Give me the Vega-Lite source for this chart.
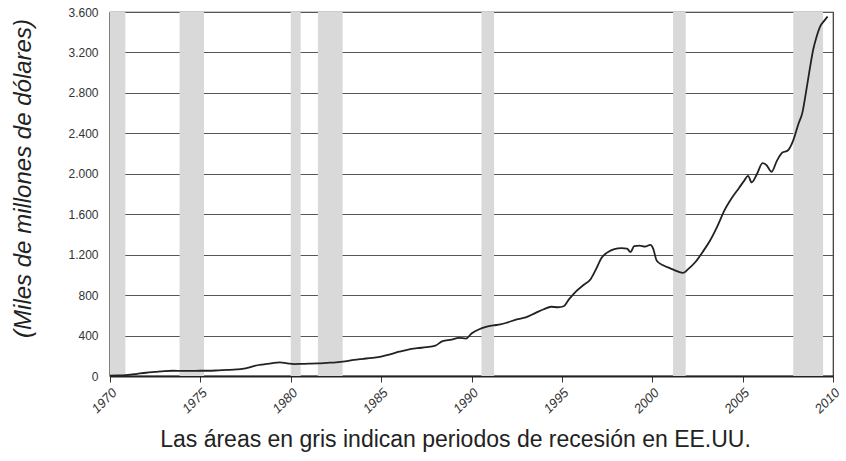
{
  "$schema": "https://vega.github.io/schema/vega-lite/v6.json",
  "width": 723,
  "height": 364,
  "autosize": "none",
  "padding": {"left": 110, "top": 12, "right": 13, "bottom": 85},
  "background": "white",
  "config": {
    "view": {"stroke": "#333333", "strokeWidth": 1.2},
    "font": "Liberation Sans"
  },
  "datasets": {
    "recessions": [
      {"start": 1970.0, "end": 1970.85},
      {"start": 1973.85, "end": 1975.2},
      {"start": 1980.0, "end": 1980.55},
      {"start": 1981.5, "end": 1982.87},
      {"start": 1990.55, "end": 1991.25},
      {"start": 2001.15, "end": 2001.85},
      {"start": 2007.8, "end": 2009.45}
    ],
    "series": [
      {"year": 1970.0, "value": 3},
      {"year": 1970.5, "value": 5},
      {"year": 1971.0, "value": 12},
      {"year": 1971.5, "value": 22},
      {"year": 1972.0, "value": 32},
      {"year": 1972.5, "value": 40},
      {"year": 1973.0, "value": 48},
      {"year": 1973.5, "value": 52},
      {"year": 1974.0, "value": 50},
      {"year": 1974.5, "value": 50},
      {"year": 1975.0, "value": 52},
      {"year": 1975.5, "value": 52},
      {"year": 1976.0, "value": 56},
      {"year": 1976.5, "value": 60},
      {"year": 1977.0, "value": 65},
      {"year": 1977.5, "value": 75},
      {"year": 1978.0, "value": 100},
      {"year": 1978.5, "value": 115},
      {"year": 1979.0, "value": 128},
      {"year": 1979.4, "value": 134},
      {"year": 1979.8, "value": 125},
      {"year": 1980.2, "value": 118},
      {"year": 1980.6, "value": 120},
      {"year": 1981.0, "value": 122},
      {"year": 1981.5, "value": 125},
      {"year": 1982.0, "value": 130},
      {"year": 1982.5, "value": 135},
      {"year": 1983.0, "value": 145},
      {"year": 1983.5, "value": 160},
      {"year": 1984.0, "value": 170},
      {"year": 1984.5, "value": 180},
      {"year": 1985.0, "value": 192},
      {"year": 1985.5, "value": 215},
      {"year": 1986.0, "value": 240},
      {"year": 1986.5, "value": 262},
      {"year": 1987.0, "value": 275},
      {"year": 1987.5, "value": 285},
      {"year": 1988.0, "value": 300},
      {"year": 1988.4, "value": 345},
      {"year": 1988.9, "value": 360},
      {"year": 1989.3, "value": 378},
      {"year": 1989.7, "value": 370},
      {"year": 1990.0, "value": 420},
      {"year": 1990.4, "value": 460},
      {"year": 1990.8, "value": 485},
      {"year": 1991.2, "value": 500},
      {"year": 1991.6, "value": 510},
      {"year": 1992.0, "value": 530},
      {"year": 1992.5, "value": 560},
      {"year": 1993.0, "value": 580},
      {"year": 1993.5, "value": 620},
      {"year": 1994.0, "value": 660},
      {"year": 1994.4, "value": 685},
      {"year": 1994.8, "value": 680},
      {"year": 1995.1, "value": 690},
      {"year": 1995.4, "value": 760},
      {"year": 1995.8, "value": 840},
      {"year": 1996.2, "value": 900},
      {"year": 1996.6, "value": 960},
      {"year": 1996.9, "value": 1060},
      {"year": 1997.2, "value": 1170},
      {"year": 1997.5, "value": 1220},
      {"year": 1997.9, "value": 1255},
      {"year": 1998.3, "value": 1265},
      {"year": 1998.6, "value": 1260},
      {"year": 1998.8, "value": 1225},
      {"year": 1999.0, "value": 1285},
      {"year": 1999.3, "value": 1290},
      {"year": 1999.6, "value": 1280},
      {"year": 1999.9, "value": 1296},
      {"year": 2000.05, "value": 1260},
      {"year": 2000.25, "value": 1140},
      {"year": 2000.6, "value": 1095},
      {"year": 2001.0, "value": 1065},
      {"year": 2001.4, "value": 1035},
      {"year": 2001.7, "value": 1020},
      {"year": 2002.0, "value": 1060},
      {"year": 2002.4, "value": 1130},
      {"year": 2002.8, "value": 1230},
      {"year": 2003.2, "value": 1340},
      {"year": 2003.6, "value": 1480},
      {"year": 2004.0, "value": 1640},
      {"year": 2004.4, "value": 1760},
      {"year": 2004.8, "value": 1860},
      {"year": 2005.1, "value": 1935},
      {"year": 2005.3, "value": 1980},
      {"year": 2005.5, "value": 1915},
      {"year": 2005.8, "value": 2000},
      {"year": 2006.1, "value": 2105},
      {"year": 2006.3, "value": 2090},
      {"year": 2006.6, "value": 2020},
      {"year": 2006.9, "value": 2130},
      {"year": 2007.2, "value": 2210},
      {"year": 2007.5, "value": 2230},
      {"year": 2007.8, "value": 2330},
      {"year": 2008.1, "value": 2500},
      {"year": 2008.3, "value": 2600},
      {"year": 2008.5, "value": 2800},
      {"year": 2008.7, "value": 3020},
      {"year": 2008.9, "value": 3224},
      {"year": 2009.1, "value": 3360},
      {"year": 2009.3, "value": 3460},
      {"year": 2009.5, "value": 3510},
      {"year": 2009.7, "value": 3555}
    ]
  },
  "layer": [
    {
      "data": {"name": "recessions"},
      "mark": {"type": "rect", "color": "#d9d9d9", "opacity": 1},
      "encoding": {
        "x": {"field": "start", "type": "quantitative", "scale": {"domain": [1970, 2010], "nice": false, "zero": false}},
        "x2": {"field": "end"}
      }
    },
    {
      "data": {"name": "series"},
      "mark": {"type": "line", "color": "#222222", "strokeWidth": 1.8, "interpolate": "monotone", "clip": true},
      "encoding": {
        "x": {
          "field": "year",
          "type": "quantitative",
          "scale": {"domain": [1970, 2010], "nice": false, "zero": false},
          "axis": {
            "values": [1970, 1975, 1980, 1985, 1990, 1995, 2000, 2005, 2010],
            "format": "d",
            "labelAngle": -45,
            "labelAlign": "right",
            "labelBaseline": "top",
            "labelFontSize": 13,
            "labelFontStyle": "italic",
            "labelColor": "#333333",
            "labelPadding": 4,
            "tickSize": 6,
            "tickColor": "#333333",
            "domainColor": "#222222",
            "domainWidth": 1.8,
            "grid": false,
            "title": "Las áreas en gris indican periodos de recesión en EE.UU.",
            "titleFontSize": 23,
            "titleFontWeight": "normal",
            "titleColor": "#222222",
            "titlePadding": 13,
            "titleX": 345
          }
        },
        "y": {
          "field": "value",
          "type": "quantitative",
          "scale": {"domain": [0, 3600], "nice": false},
          "axis": {
            "values": [0, 400, 800, 1200, 1600, 2000, 2400, 2800, 3200, 3600],
            "labelExpr": "replace(format(datum.value, ','), ',', '.')",
            "labelFontSize": 12,
            "labelColor": "#333333",
            "labelPadding": 12,
            "ticks": false,
            "domainColor": "#222222",
            "domainWidth": 1.8,
            "grid": true,
            "gridColor": "#555555",
            "gridWidth": 1,
            "title": "(Miles de millones de dólares)",
            "titleFontSize": 24,
            "titleFontStyle": "italic",
            "titleFontWeight": "normal",
            "titleColor": "#222222",
            "titlePadding": 32,
            "titleY": 166
          }
        }
      }
    }
  ]
}
